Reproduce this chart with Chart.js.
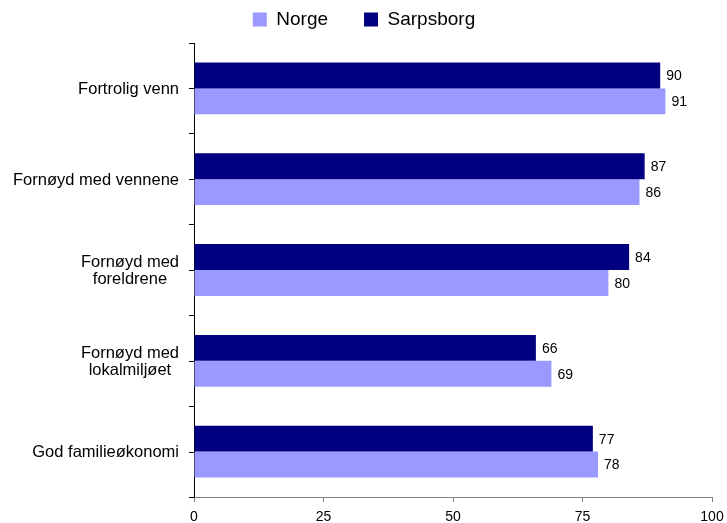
<!DOCTYPE html>
<html>
<head>
<meta charset="utf-8">
<script src="https://cdn.jsdelivr.net/npm/chart.js@4"></script>
<style>
  html, body { margin: 0; padding: 0; background: #fff; }
  #wrap { width: 727px; height: 523px; }
</style>
</head>
<body>
<div id="wrap"><canvas id="chart"></canvas></div>
<script>
        const categories = [
            ['Fortrolig venn'],
            ['Fornøyd med vennene'],
            ['Fornøyd med', 'foreldrene'],
            ['Fornøyd med', 'lokalmiljøet'],
            ['God familieøkonomi']
        ];
        const sarpsborg = [90, 87, 84, 66, 77];
        const norge = [91, 86, 80, 69, 78];
        const xTicks = [0, 25, 50, 75, 100];

        const FONT = '"Liberation Sans", Arial, sans-serif';

        // value labels to the right of each bar
        const valueLabels = {
            id: 'valueLabels',
            afterDatasetsDraw(chart) {
                const ctx = chart.ctx;
                ctx.save();
                ctx.font = '14px ' + FONT;
                ctx.fillStyle = '#000';
                ctx.textAlign = 'left';
                ctx.textBaseline = 'middle';
                chart.data.datasets.forEach((ds, i) => {
                    chart.getDatasetMeta(i).data.forEach((bar, j) => {
                        ctx.fillText(ds.data[j], bar.x + 6, bar.y + 1);
                    });
                });
                ctx.restore();
            }
        };

        // category labels: right edge fixed, multi-line text centred within itself
        const catLabels = {
            id: 'catLabels',
            afterDraw(chart) {
                const ctx = chart.ctx;
                const y = chart.scales.y;
                ctx.save();
                ctx.font = '16.5px ' + FONT;
                ctx.fillStyle = '#000';
                ctx.textAlign = 'center';
                ctx.textBaseline = 'middle';
                categories.forEach((lines, i) => {
                    const w = Math.max(...lines.map(l => ctx.measureText(l).width));
                    const cx = 179 - w / 2;
                    const cy = y.getPixelForValue(i);
                    const lh = 17;
                    lines.forEach((l, k) => {
                        ctx.fillText(l, cx, cy + 1 + (k - (lines.length - 1) / 2) * lh);
                    });
                    // small tick at category centre
                    ctx.strokeStyle = '#000';
                    ctx.lineWidth = 1;
                    ctx.beginPath();
                    ctx.moveTo(y.right - 5, Math.round(cy) + 0.5);
                    ctx.lineTo(y.right, Math.round(cy) + 0.5);
                    ctx.stroke();
                });
                ctx.restore();
            }
        };

        // keep the legend's wide item spacing without pushing the plot down
        const legendFit = {
            id: 'legendFit',
            beforeLayout(chart) {
                const lg = chart.legend;
                if (lg && !lg._patched) {
                    const fit = lg.fit;
                    lg.fit = function () {
                        fit.call(this);
                        this.height = 69;
                        this.lineWidths[0] -= 16;
                    };
                    lg._patched = true;
                }
            }
        };

        new Chart(document.getElementById('chart'), {
            type: 'bar',
            data: {
                labels: categories,
                datasets: [
                    { label: 'Sarpsborg', data: sarpsborg, backgroundColor: '#000080' },
                    { label: 'Norge', data: norge, backgroundColor: '#9999FF' }
                ]
            },
            options: {
                indexAxis: 'y',
                responsive: true,
                maintainAspectRatio: false,
                animation: false,
                layout: { padding: { left: 0, right: 15, top: -26, bottom: 0 } },
                datasets: {
                    bar: { categoryPercentage: 0.57, barPercentage: 1.0 }
                },
                plugins: {
                    legend: {
                        reverse: true,
                        labels: {
                            font: { family: FONT, size: 19 },
                            color: '#000',
                            boxWidth: 14,
                            boxHeight: 14,
                            padding: 36
                        }
                    },
                    tooltip: { enabled: false }
                },
                scales: {
                    x: {
                        min: 0,
                        max: 100,
                        afterBuildTicks: s => { s.ticks = xTicks.map(v => ({ value: v })); },
                        ticks: { font: { family: FONT, size: 14 }, color: '#000', padding: 7 },
                        grid: { drawOnChartArea: false, drawTicks: true, tickLength: 5, color: '#808080' },
                        border: { color: '#808080' },
                        afterFit: s => { s.height = 26; s.paddingLeft = 0; s.paddingRight = 0; }
                    },
                    y: {
                        ticks: { color: 'rgba(0,0,0,0)' },
                        grid: { drawOnChartArea: false, offset: true, tickLength: 5, color: '#000' },
                        border: { color: '#000' },
                        afterFit: s => { s.width = 194; }
                    }
                }
            },
            plugins: [valueLabels, catLabels, legendFit]
        });
</script>
</body>
</html>
